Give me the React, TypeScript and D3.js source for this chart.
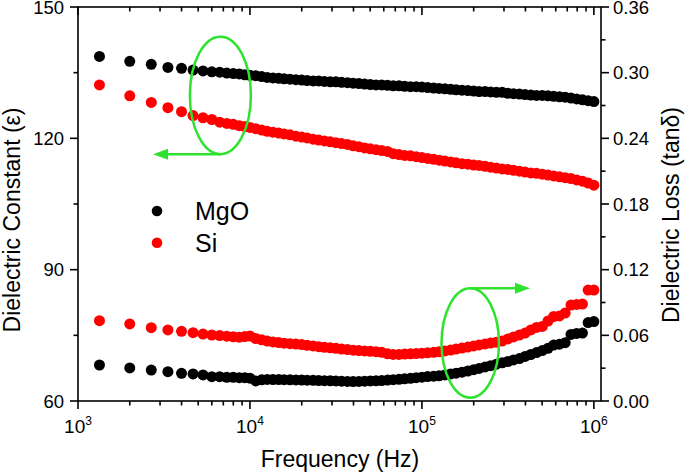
import React from "react";
import * as d3 from "d3";

const freq = [1333, 2000, 2667, 3333, 4000, 4667, 5333, 6000, 6667, 7333, 8000, 8667, 9333, 10000,
  10800, 11700, 12600, 13600, 14700, 15800, 17100, 18500, 20000, 21500, 23300, 25100, 27100, 29300, 31600,
  34100, 36900, 39800, 43000, 46400, 50100, 54100, 58400, 63100, 68100, 73600, 79400, 85800, 92600, 100000,
  108000, 117000, 126000, 136000, 147000, 158000, 171000, 185000, 200000, 215000, 233000, 251000, 271000, 293000, 316000,
  341000, 369000, 398000, 430000, 464000, 501000, 541000, 584000, 631000, 681000, 736000, 794000, 858000, 926000, 1000000];

const mgoEps = [138.7, 137.6, 136.9, 136.2, 136.0, 135.6, 135.4, 135.2, 135.1, 134.9, 134.8, 134.7, 134.5, 134.4,
  134.3, 134.1, 133.9, 133.8, 133.7, 133.6, 133.5, 133.4, 133.3, 133.2,
  133.1, 133.1, 133.0, 132.9, 132.9, 132.8, 132.7, 132.6, 132.5, 132.4,
  132.3, 132.2, 132.2, 132.1, 132.0, 132.0, 131.9, 131.8, 131.8, 131.7,
  131.6, 131.5, 131.4, 131.3, 131.2, 131.1, 131.0, 130.9, 130.8, 130.7,
  130.7, 130.6, 130.5, 130.5, 130.3, 130.2, 130.1, 130.0, 129.9, 129.8,
  129.8, 129.7, 129.6, 129.5, 129.4, 129.2, 129.0, 128.8, 128.6, 128.4];

const siEps = [132.2, 129.7, 128.2, 127.0, 126.1, 125.2, 124.7, 124.3, 123.7, 123.4, 123.2, 122.9, 122.7, 122.5,
  122.2, 121.9, 121.6, 121.4, 121.2, 121.0, 120.8, 120.5, 120.3, 120.1,
  119.8, 119.6, 119.4, 119.2, 119.0, 118.8, 118.6, 118.3, 118.1, 117.8,
  117.6, 117.4, 117.2, 117.0, 116.5, 116.3, 116.1, 116.0, 115.8, 115.6,
  115.4, 115.2, 115.0, 114.8, 114.6, 114.4, 114.2, 114.1, 113.9, 113.8,
  113.6, 113.4, 113.2, 113.0, 112.9, 112.7, 112.5, 112.3, 112.1, 112.0,
  111.8, 111.6, 111.4, 111.2, 111.0, 110.8, 110.5, 110.2, 109.8, 109.3];

const mgoLoss = [0.0329, 0.0302, 0.0283, 0.0268, 0.0253, 0.0247, 0.0238, 0.0222, 0.0222, 0.0217, 0.0217, 0.0213, 0.0213, 0.0208,
  0.0183, 0.0194, 0.0197, 0.0196, 0.0196, 0.0195, 0.0194, 0.0193, 0.0192, 0.0190,
  0.0189, 0.0187, 0.0186, 0.0185, 0.0183, 0.0181, 0.0179, 0.0178, 0.0179, 0.0181,
  0.0183, 0.0185, 0.0187, 0.0191, 0.0195, 0.0198, 0.0203, 0.0207, 0.0213, 0.0218,
  0.0223, 0.0227, 0.0230, 0.0238, 0.0247, 0.0254, 0.0263, 0.0274, 0.0286, 0.0298,
  0.0311, 0.0323, 0.0336, 0.0349, 0.0361, 0.0375, 0.0388, 0.0407, 0.0425, 0.0443,
  0.0461, 0.0481, 0.0511, 0.0519, 0.0533, 0.0608, 0.0617, 0.0621, 0.0717, 0.0726];

const siLoss = [0.0734, 0.0704, 0.0670, 0.0649, 0.0637, 0.0624, 0.0612, 0.0603, 0.0598, 0.0592, 0.0587, 0.0583, 0.0589, 0.0594,
  0.0571, 0.0559, 0.0548, 0.0540, 0.0534, 0.0528, 0.0524, 0.0520, 0.0516, 0.0509,
  0.0503, 0.0496, 0.0491, 0.0486, 0.0481, 0.0475, 0.0470, 0.0464, 0.0461, 0.0457,
  0.0454, 0.0451, 0.0445, 0.0431, 0.0426, 0.0426, 0.0429, 0.0431, 0.0434, 0.0437,
  0.0440, 0.0445, 0.0450, 0.0457, 0.0466, 0.0475, 0.0484, 0.0493, 0.0503, 0.0512,
  0.0521, 0.0530, 0.0537, 0.0548, 0.0567, 0.0585, 0.0603, 0.0621, 0.0649, 0.0672,
  0.0681, 0.0731, 0.0772, 0.0777, 0.0804, 0.0877, 0.0882, 0.0886, 0.1014, 0.1014];

const leftTicks = [60, 90, 120, 150];
const leftMinor = [75, 105, 135];
const rightTicks = [0, 0.06, 0.12, 0.18, 0.24, 0.3, 0.36];
const rightMinor = [0.03, 0.09, 0.15, 0.21, 0.27, 0.33];
const xMajor = [1e3, 1e4, 1e5, 1e6];
const xExp = ["3", "4", "5", "6"];

const legendItems = [
  { label: "MgO", color: "#000000" },
  { label: "Si", color: "#ff0000" },
];

// annotations in data coordinates
const ellipseLeft = { f: 6730, v: 129.8, tipF: 2730 };
const ellipseRight = { f: 191000, t: 0.053, tipF: 425000 };

const W = 685, H = 473;
const L = 78, R = 601, T = 7, B = 401;
const GREEN = "#2ee22e";
const FONT = "'Liberation Sans', Arial, sans-serif";

export default function App() {
  const x = d3.scaleLog().domain([1e3, 1.1e6]).range([L, R]);
  const yL = d3.scaleLinear().domain([60, 150]).range([B, T]);
  const yR = d3.scaleLinear().domain([0, 0.36]).range([B, T]);

  const xMinor: number[] = [];
  for (let d = 1e3; d < 1.1e6; d *= 10) {
    for (let m = 2; m <= 9; m++) {
      const v = d * m;
      if (v < 1.1e6) xMinor.push(v);
    }
  }

  const r = 5.5;
  const e1x = x(ellipseLeft.f), e1y = yL(ellipseLeft.v);
  const e1rx = 30.5, e1ry = 58.7;
  const e2x = x(ellipseRight.f), e2y = yR(ellipseRight.t);
  const e2rx = 28.7, e2ry = 54.7;
  const a1y = e1y + e1ry, a1tip = x(ellipseLeft.tipF);
  const a2y = e2y - e2ry, a2tip = x(ellipseRight.tipF);

  return (
    <svg width={W} height={H} style={{ position: "absolute", left: 0, top: 0, background: "#fff" }} fontFamily={FONT}>
      <rect x={0} y={0} width={W} height={H} fill="#fff" />
      {/* data */}
      <g>
        {freq.map((f, i) => <circle key={"a" + i} cx={x(f)} cy={yL(mgoEps[i])} r={r} fill="#000" />)}
        {freq.map((f, i) => <circle key={"b" + i} cx={x(f)} cy={yL(siEps[i])} r={r} fill="#ff0000" />)}
        {freq.map((f, i) => <circle key={"c" + i} cx={x(f)} cy={yR(mgoLoss[i])} r={r} fill="#000" />)}
        {freq.map((f, i) => <circle key={"d" + i} cx={x(f)} cy={yR(siLoss[i])} r={r} fill="#ff0000" />)}
      </g>
      {/* annotations */}
      <g stroke={GREEN} strokeWidth={2.5} fill="none">
        <ellipse cx={e1x} cy={e1y} rx={e1rx} ry={e1ry} />
        <line x1={e1x} y1={a1y} x2={a1tip + 12} y2={a1y} />
        <ellipse cx={e2x} cy={e2y} rx={e2rx} ry={e2ry} />
        <line x1={e2x} y1={a2y} x2={a2tip - 12} y2={a2y} />
      </g>
      <path d={`M${a1tip},${a1y} L${a1tip + 15},${a1y - 5.5} L${a1tip + 15},${a1y + 5.5} Z`} fill={GREEN} />
      <path d={`M${a2tip},${a2y} L${a2tip - 15},${a2y - 5.5} L${a2tip - 15},${a2y + 5.5} Z`} fill={GREEN} />
      {/* frame */}
      <g stroke="#000" strokeWidth={1.6} fill="none">
        <rect x={L} y={T} width={R - L} height={B - T} />
        {leftTicks.map((v) => <line key={"lt" + v} x1={L - 8} x2={L} y1={yL(v)} y2={yL(v)} />)}
        {leftMinor.map((v) => <line key={"lm" + v} x1={L - 4.5} x2={L} y1={yL(v)} y2={yL(v)} />)}
        {rightTicks.map((v) => <line key={"rt" + v} x1={R} x2={R + 8} y1={yR(v)} y2={yR(v)} />)}
        {rightMinor.map((v) => <line key={"rm" + v} x1={R} x2={R + 4.5} y1={yR(v)} y2={yR(v)} />)}
        {xMajor.map((v) => <line key={"xb" + v} x1={x(v)} x2={x(v)} y1={B} y2={B + 8} />)}
        {xMinor.map((v) => <line key={"xm" + v} x1={x(v)} x2={x(v)} y1={B} y2={B + 4.5} />)}
        {xMajor.map((v) => <line key={"xt" + v} x1={x(v)} x2={x(v)} y1={T} y2={T + 8} />)}
        {xMinor.map((v) => <line key={"xtm" + v} x1={x(v)} x2={x(v)} y1={T} y2={T + 4.5} />)}
      </g>
      {/* tick labels */}
      <g fontSize={18.5} fill="#000">
        {leftTicks.map((v) => <text key={"ll" + v} x={L - 14} y={yL(v) + 6.6} textAnchor="end">{v}</text>)}
        {rightTicks.map((v) => <text key={"rl" + v} x={R + 12} y={yR(v) + 6.6} textAnchor="start">{v.toFixed(2)}</text>)}
        {xMajor.map((v, i) => (
          <text key={"xl" + v} x={x(v)} y={433} textAnchor="middle" fontSize={19}>10<tspan dy={-8} fontSize={12}>{xExp[i]}</tspan></text>
        ))}
      </g>
      {/* axis titles */}
      <text x={340} y={467} textAnchor="middle" fontSize={23}>Frequency (Hz)</text>
      <text transform={`translate(20,220) rotate(-90)`} textAnchor="middle" fontSize={23}>Dielectric Constant (ε)</text>
      <text transform={`translate(679,215) rotate(-90)`} textAnchor="middle" fontSize={23}>Dielectric Loss (tanδ)</text>
      {/* legend */}
      {legendItems.map((it, i) => (
        <g key={it.label}>
          <circle cx={157} cy={211 + i * 31.7} r={5.3} fill={it.color} />
          <text x={195} y={220 + i * 31.7} fontSize={25}>{it.label}</text>
        </g>
      ))}
    </svg>
  );
}
